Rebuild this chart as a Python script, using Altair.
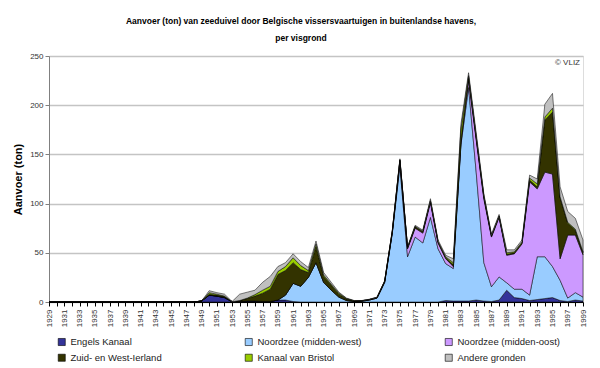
import altair as alt
import pandas as pd

years = list(range(1929, 2000))

series_names = [
    "Engels Kanaal",
    "Noordzee (midden-west)",
    "Noordzee (midden-oost)",
    "Zuid- en West-Ierland",
    "Kanaal van Bristol",
    "Andere gronden",
]
series_colors = ["#333399", "#99CCFF", "#CC99FF", "#333300", "#99CC00", "#C0C0C0"]

# values per year 1929..1999 (ton)
engels_kanaal = [0, 0, 0, 0, 0, 0, 0, 0, 0, 0, 0, 0, 0, 0, 0, 0, 0, 0, 0, 0,
                 1, 7, 6, 4.5, 0.3, 0.5, 1, 1, 0.5, 0.5, 2, 2, 0.5, 0, 0, 0, 0, 0, 0, 0,
                 0, 0, 0, 0, 0, 0, 0, 0, 0, 0, 0, 0, 1.5, 1, 1, 1, 2, 1, 0.5, 2,
                 12, 4.5, 3.5, 1.5, 2.5, 3.5, 4.5, 1.5, 0.5, 2, 1]
noordzee_mw = [0, 0, 0, 0, 0, 0, 0, 0, 0, 0, 0, 0, 0, 0, 0, 0, 0, 0, 0, 0,
               0, 0, 0, 0, 0, 0, 0, 0, 0, 0, 0, 5, 18.5, 16, 25, 40, 20, 12, 5, 1.5,
               0.5, 0.8, 2, 4, 20, 70, 138, 46, 66, 60, 86, 54, 37.5, 33, 159, 217, 130, 39, 15, 23.5,
               7.5, 8.5, 9.5, 5.5, 43.5, 42.5, 31.5, 20.5, 3.5, 7.5, 4]
noordzee_mo = [0, 0, 0, 0, 0, 0, 0, 0, 0, 0, 0, 0, 0, 0, 0, 0, 0, 0, 0, 0,
               0, 0, 0, 0, 0, 0, 0, 0, 0, 0, 0, 0, 0, 0, 0, 0, 0, 0, 0, 0,
               0, 0, 0, 0, 0, 0.5, 5, 8, 9, 10, 15, 6, 5, 2, 2, 7, 33, 65, 50.5, 60.5,
               28, 36, 46, 115, 69, 86, 94, 22, 64, 58.5, 43]
zuid_west_ierland = [0, 0, 0, 0, 0, 0, 0, 0, 0, 0, 0, 0, 0, 0, 0, 0, 0, 0, 0, 0,
                     0, 1, 1, 1, 0, 1, 2.5, 5, 8.5, 12.5, 26, 25, 21, 17, 5, 16, 6, 5, 3, 1.5,
                     0.5, 0.4, 0.5, 0.5, 1, 1, 1, 1, 1.5, 1.5, 1.5, 1, 1, 2, 3, 3, 2, 2, 1, 1,
                     1, 1, 1, 2, 2, 53, 63, 62, 12, 5, 2]
kanaal_bristol = [0, 0, 0, 0, 0, 0, 0, 0, 0, 0, 0, 0, 0, 0, 0, 0, 0, 0, 0, 0,
                  0, 1.5, 1, 0.5, 0, 0, 0.5, 1.5, 3, 3, 3, 4, 5, 4, 2, 3, 1.5, 1, 1, 0.5,
                  0.2, 0.1, 0.1, 0.2, 0.3, 0.5, 0.5, 0.5, 0.5, 0.5, 0.5, 0.5, 1, 2, 11, 2, 1.5, 1, 0.5, 0.5,
                  1.5, 1, 1, 2, 3, 3, 4, 1, 1, 1, 1]
andere_gronden = [0, 0, 0, 0, 0, 0, 0, 0, 0, 0, 0, 0, 0, 0, 0, 0, 0, 0, 0, 0,
                  0, 2, 1.5, 2, 0.2, 6.5, 6, 4.5, 8, 10, 5, 4, 4, 4, 3, 3, 2.5, 2, 1, 0.5,
                  0.3, 0.2, 0.2, 0.3, 0.2, 0.5, 1, 0.5, 1, 1, 2, 1.5, 1.5, 4, 5, 3, 3.5, 2, 1.5, 1.5,
                  3, 2, 2, 3, 5, 13, 15, 10, 11, 11, 12]

all_series = [engels_kanaal, noordzee_mw, noordzee_mo, zuid_west_ierland, kanaal_bristol, andere_gronden]

rows = []
for idx, (name, vals) in enumerate(zip(series_names, all_series)):
    for yr, v in zip(years, vals):
        rows.append({"jaar": yr, "visgrond": name, "ton": v, "volgorde": idx})
df = pd.DataFrame(rows)

FONT2 = "Liberation Sans, DejaVu Sans, sans-serif"

area = alt.Chart(df).mark_area(
    stroke="#000000", strokeWidth=0.6, strokeOpacity=0.85, interpolate="linear"
).encode(
    x=alt.X(
        "jaar:Q",
        scale=alt.Scale(domain=[1929, 1999], nice=False, zero=False),
        axis=alt.Axis(
            values=years,
            labelExpr="datum.value % 2 == 1 ? datum.value : ''",
            labelAngle=270,
            labelAlign="right",
            labelBaseline="middle",
            labelFontSize=8,
            labelFont=FONT2,
            labelColor="#333333",
            labelPadding=3,
            labelOverlap=False,
            tickSize=4,
            tickColor="#000000",
            domainColor="#000000",
            grid=False,
            title=None,
        ),
    ),
    y=alt.Y(
        "ton:Q",
        stack="zero",
        scale=alt.Scale(domain=[0, 250], nice=False),
        axis=alt.Axis(
            values=[0, 50, 100, 150, 200, 250],
            labelFontSize=8,
            labelFont=FONT2,
            labelColor="#333333",
            tickSize=4,
            tickColor="#808080",
            domainColor="#808080",
            grid=True,
            gridColor="#C4C4C4",
            gridWidth=1.5,
            title="Aanvoer (ton)",
            titleFont=FONT2,
            titleFontSize=11,
            titleFontWeight="bold",
            titleColor="#000000",
            titlePadding=6,
        ),
    ),
    color=alt.Color(
        "visgrond:N",
        scale=alt.Scale(domain=series_names, range=series_colors),
        legend=alt.Legend(
            title=None,
            orient="none",
            legendX=8,
            legendY=281,
            direction="horizontal",
            columns=3,
            columnPadding=82,
            rowPadding=5,
            symbolType="square",
            symbolSize=50,
            symbolStrokeColor="#000000",
            symbolStrokeWidth=0.6,
            labelFont=FONT2,
            labelFontSize=9.5,
            labelColor="#222222",
            labelLimit=200,
        ),
    ),
    order=alt.Order("volgorde:Q", sort="ascending"),
)

copyright_text = alt.Chart(pd.DataFrame({"t": ["© VLIZ"]})).mark_text(
    align="right", baseline="top", fontSize=8, font=FONT2, color="#333333"
).encode(
    text="t:N",
    x=alt.value(531),
    y=alt.value(3),
)

chart = alt.layer(area, copyright_text).properties(
    width=534,
    height=246,
    autosize="none",
    padding={"left": 41, "top": 48, "right": 9, "bottom": 66},
    title=alt.TitleParams(
        text=[
            "Aanvoer (ton) van zeeduivel door Belgische vissersvaartuigen in buitenlandse havens,",
            "per visgrond",
        ],
        font=FONT2,
        fontSize=8.5,
        fontWeight="bold",
        color="#000000",
        anchor="middle",
        dx=-15,
        offset=10,
        lineHeight=17,
    ),
).configure_view(
    fill="#F3FBFB", stroke="#808080", strokeWidth=1
).configure(background="#FFFFFF")

chart.save("out.html", embed_options={"renderer": "svg", "actions": False})
